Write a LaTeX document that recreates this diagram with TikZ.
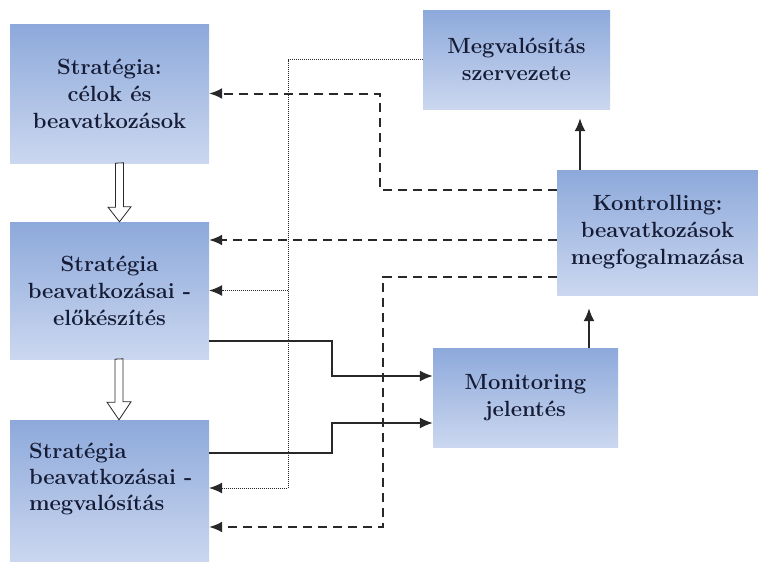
\documentclass[tikz,border=0pt]{standalone}
\usepackage{fontspec}
\usetikzlibrary{arrows.meta}

\definecolor{boxtop}{RGB}{141,169,219}
\definecolor{boxbot}{RGB}{203,215,239}
\definecolor{txtnavy}{RGB}{22,28,54}
\definecolor{linegray}{RGB}{40,40,40}

\tikzset{
  stage/.style={top color=boxtop, bottom color=boxbot, text=txtnavy,
    font=\fontsize{22}{27}\selectfont\bfseries, align=center, inner sep=0pt},
  stagetext/.style={text=txtnavy, font=\fontsize{22}{26}\selectfont\bfseries,
    align=left, inner sep=0pt},
  feed/.style={draw=linegray, line width=2pt, dash pattern=on 9pt off 6pt,
    >={Latex[length=13pt,width=11pt]}, ->},
  orgline/.style={draw=linegray, line width=1pt, dash pattern=on 1pt off 1pt,
    >={Latex[length=13pt,width=11pt]}, ->},
  report/.style={draw=linegray, line width=1.6pt,
    >={Latex[length=13pt,width=11pt]}, ->},
  hollowarr/.style={draw=linegray, line width=0.8pt, fill=white}
}

\begin{document}
\begin{tikzpicture}[x=1pt, y=-1pt]
\useasboundingbox (0,0) rectangle (758,562);

% boxes
\node[stage, minimum width=199pt, minimum height=139pt] (goals) at (109.5,93.5) {Stratégia:\\célok és\\beavatkozások};
\node[stage, minimum width=199pt, minimum height=137pt] (prep) at (109.5,290.5) {Stratégia\\beavatkozásai -\\előkészítés};
\node[stage, minimum width=199pt, minimum height=142pt] (impl) at (109.5,491) {};
\node[stagetext, anchor=north west] (impltext) at ([xshift=19pt,yshift=-23pt]impl.north west) {Stratégia\\beavatkozásai -\\megvalósítás};
\node[stage, minimum width=187pt, minimum height=99pt] (org) at (516.5,59.5) {Megvalósítás\\szervezete};
\node[stage, minimum width=201pt, minimum height=125pt] (ctrl) at (657.5,232.5) {Kontrolling:\\beavatkozások\\megfogalmazása};
\node[stage, minimum width=185pt, minimum height=99pt] (mon) at (525.5,397.5) {Monitoring\\jelentés};

% hollow arrows between the stages
\draw[hollowarr] ([xshift=6pt]goals.south) -- ++(0,44) -- ++(-7.5,0) -- ([xshift=10pt]prep.north) -- ++(11.5,-15) -- ++(-7.5,0) -- ++(0,-44) -- cycle;
\draw[hollowarr] ([xshift=5.5pt]prep.south) -- ++(0,43) -- ++(-8,0) -- ([xshift=9.5pt]impl.north) -- ++(12,-18) -- ++(-8,0) -- ++(0,-43) -- cycle;

% feedback from controlling
\coordinate (fb1) at (380,93.5);
\coordinate (fb3) at (383,527);
\draw[feed] ([yshift=42.5pt]ctrl.west) -| (fb1) -- (goals.east);
\draw[feed] ([yshift=-7.5pt]ctrl.west) -- ([yshift=-7.5pt]ctrl.west -| prep.east);
\draw[feed] ([yshift=-44.5pt]ctrl.west) -| (fb3) -- (fb3 -| impl.east);

% organisation lines
\coordinate (org1) at (288,290.5);
\coordinate (org2) at (288,488);
\draw[orgline] (org.west) -| (org2) -- (org2 -| impl.east);
\draw[orgline] (org1) -- (prep.east);

% reports
\coordinate (rp1) at (332,341);
\coordinate (rp2) at (332,453);
\draw[report] ([yshift=-50.5pt]prep.east) -- (rp1) |- ([yshift=21.5pt]mon.west);
\draw[report] ([yshift=38pt]impl.east) -- (rp2) |- ([yshift=-25.5pt]mon.west);

\draw[report, shorten >=9pt] ([xshift=-77.5pt]ctrl.north) -- ([xshift=-77.5pt]ctrl.north |- org.south);
\draw[report, shorten >=13pt] ([xshift=63.5pt]mon.north) -- ([xshift=63.5pt]mon.north |- ctrl.south);

\end{tikzpicture}
\end{document}
